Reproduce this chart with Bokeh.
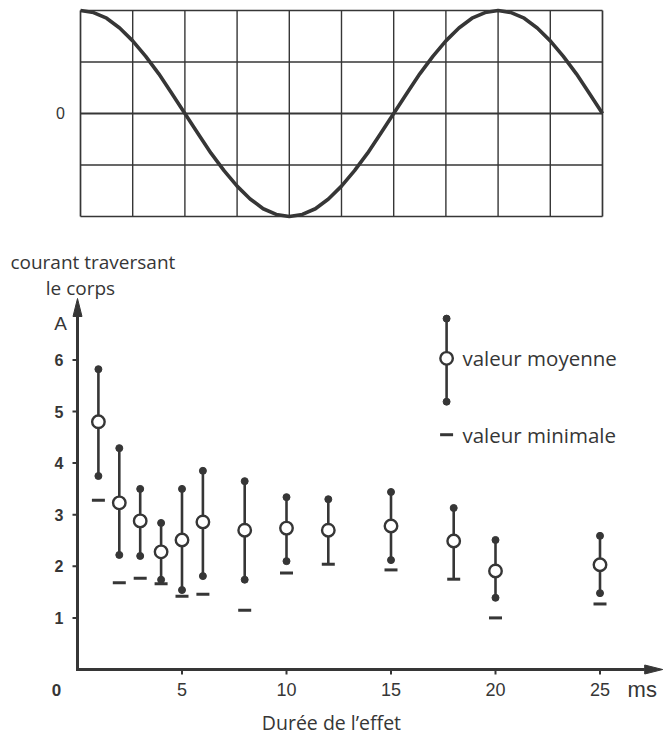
from bokeh.plotting import figure
from bokeh.layouts import column
from bokeh.models import Range1d
from bokeh.core.properties import value
from bokeh.embed import file_html
from bokeh.resources import INLINE
import numpy as np

# ---------------- data ----------------
# top panel: waveform read at every quarter grid division (10 divisions)
wave_y = [2.00, 1.96, 1.85, 1.66, 1.41, 1.11, 0.77, 0.39, 0.00, -0.39,
          -0.77, -1.11, -1.41, -1.66, -1.85, -1.96, -2.00, -1.96, -1.85, -1.66,
          -1.41, -1.11, -0.77, -0.39, 0.00, 0.39, 0.77, 1.11, 1.41, 1.66,
          1.85, 1.96, 2.00, 1.96, 1.85, 1.66, 1.41, 1.11, 0.77, 0.39, 0.00]
wave_divisions = 10
wave_rows = [-2, -1, 0, 1, 2]

# bottom panel: current through the body vs. duration of the effect
durations = [1, 2, 3, 4, 5, 6, 8, 10, 12, 15, 18, 20, 25]          # ms
mean_val = [4.80, 3.23, 2.88, 2.28, 2.51, 2.86, 2.70, 2.74, 2.70, 2.78, 2.49, 1.91, 2.03]
upper_val = [5.82, 4.29, 3.50, 2.84, 3.50, 3.85, 3.65, 3.34, 3.30, 3.44, 3.13, 2.51, 2.59]
lower_val = [3.75, 2.22, 2.20, 1.74, 1.54, 1.81, 1.74, 2.10, 2.04, 2.12, 1.75, 1.39, 1.48]
min_val = [3.28, 1.68, 1.77, 1.66, 1.42, 1.46, 1.15, 1.87, 2.04, 1.93, 1.75, 1.00, 1.27]

x_ticks = [5, 10, 15, 20, 25]
y_ticks = [1, 2, 3, 4, 5, 6]

INK = "#363636"
NUM_FONT = "Liberation Sans"
TXT_FONT = "Open Sans"


def txt(p, x, y, text, size, align="left", font=TXT_FONT, style="normal"):
    p.text(x=x, y=y, text=text, text_align=align, text_baseline="middle",
           text_font=value(font), text_font_size=size, text_color=INK,
           text_font_style=style)


# ---------------- top panel (frame = whole canvas) ----------------
# 52.2 px per division horizontally, 51.5 px per division vertically
top = figure(width=664, height=232, x_range=Range1d(-1.5326, 11.188), y_range=Range1d(-2.311, 2.194),
             x_axis_type=None, y_axis_type=None, toolbar_location=None, output_backend="svg",
             min_border=0)
top.grid.visible = False
top.outline_line_color = None

cols = list(range(wave_divisions + 1))
col_w = [1.7 if c in (0, wave_divisions) else 1.4 for c in cols]
top.segment(x0=cols, y0=[wave_rows[0]] * len(cols), x1=cols, y1=[wave_rows[-1]] * len(cols),
            line_color=INK, line_width=col_w)
row_w = [2.2 if r == 0 else (1.7 if r in (wave_rows[0], wave_rows[-1]) else 1.4) for r in wave_rows]
top.segment(x0=[0] * len(wave_rows), y0=wave_rows, x1=[wave_divisions] * len(wave_rows), y1=wave_rows,
            line_color=INK, line_width=row_w)
wave_x = np.linspace(0, wave_divisions, len(wave_y))
top.line(wave_x, wave_y, line_width=3.6, color=INK, line_join="round")
txt(top, [-0.383], [0], ["0"], "16px", align="center", font=NUM_FONT)

# ---------------- bottom panel (frame = whole canvas) ----------------
# origin at page (77, 669); 20.9 px per ms, 51.6 px per ampere
PX_X, PX_Y = 20.9, 51.6
bot = figure(width=664, height=505, x_range=Range1d(-77 / PX_X, 587 / PX_X),
             y_range=Range1d(-68 / PX_Y, 437 / PX_Y),
             x_axis_type=None, y_axis_type=None, toolbar_location=None, output_backend="svg",
             min_border=0)
bot.grid.visible = False
bot.outline_line_color = None

X_TIP, Y_TIP = 28.0, 7.19
HEAD_LEN, HEAD_HALF = 18, 4.5

# axes with narrow arrow heads
bot.line([0, 0, X_TIP - HEAD_LEN / PX_X], [Y_TIP - HEAD_LEN / PX_Y, 0, 0],
         line_color=INK, line_width=3, line_join="miter")
bot.patches(xs=[[X_TIP, X_TIP - HEAD_LEN / PX_X, X_TIP - HEAD_LEN / PX_X],
                [0, -HEAD_HALF / PX_X, HEAD_HALF / PX_X]],
            ys=[[0, HEAD_HALF / PX_Y, -HEAD_HALF / PX_Y],
                [Y_TIP, Y_TIP - HEAD_LEN / PX_Y, Y_TIP - HEAD_LEN / PX_Y]],
            fill_color=INK, line_color=INK, line_width=1)
# ticks
TICK_X = 5 / PX_X
TICK_Y = 5 / PX_Y
bot.segment(x0=x_ticks, y0=[0] * len(x_ticks), x1=x_ticks, y1=[-TICK_Y] * len(x_ticks),
            line_color=INK, line_width=2)
bot.segment(x0=[0] * len(y_ticks), y0=y_ticks, x1=[-TICK_X] * len(y_ticks), y1=y_ticks,
            line_color=INK, line_width=2)
txt(bot, x_ticks, [-0.388] * len(x_ticks), [str(t) for t in x_ticks], "18px", align="center", font=NUM_FONT)
txt(bot, [-0.67] * len(y_ticks), y_ticks, [str(t) for t in y_ticks], "16px", align="right",
    font=NUM_FONT, style="bold")

# range bars
bot.segment(x0=durations, y0=lower_val, x1=durations, y1=upper_val, line_color=INK, line_width=2.6)
bot.scatter(durations, upper_val, size=7, color=INK)
dot_x = [d for d, lo, mn in zip(durations, lower_val, min_val) if lo != mn]
dot_y = [lo for lo, mn in zip(lower_val, min_val) if lo != mn]
bot.scatter(dot_x, dot_y, size=7, color=INK)
bot.scatter(durations, min_val, marker="dash", size=13, line_color=INK, line_width=3)
bot.scatter(durations, mean_val, size=12.5, fill_color="white", line_color=INK, line_width=2.4)

# legend (drawn by hand)
LEG_X, LEG_TOP, LEG_BOT, LEG_MID, LEG_MIN = 17.66, 6.80, 5.19, 6.03, 4.55
LEG_TXT = 18.42
bot.segment(x0=[LEG_X], y0=[LEG_BOT], x1=[LEG_X], y1=[LEG_TOP], line_color=INK, line_width=2.6)
bot.scatter([LEG_X, LEG_X], [LEG_BOT, LEG_TOP], size=7, color=INK)
bot.scatter([LEG_X], [LEG_MID], size=12.5, fill_color="white", line_color=INK, line_width=2.4)
bot.scatter([LEG_X], [LEG_MIN], marker="dash", size=13, line_color=INK, line_width=3)

txt(bot, [LEG_TXT], [LEG_MID], ["valeur moyenne"], "20.5px")
txt(bot, [LEG_TXT], [LEG_MIN], ["valeur minimale"], "20.5px")
txt(bot, [-3.21], [7.89], ["courant traversant"], "19px")
txt(bot, [0.14], [7.40], ["le corps"], "19px", align="center")
txt(bot, [-0.81], [6.70], ["A"], "19px", align="center", font=NUM_FONT)
txt(bot, [-1.005], [-0.388], ["0"], "17px", align="center", font=NUM_FONT, style="bold")
txt(bot, [26.32], [-0.388], ["ms"], "22px", font=NUM_FONT)
txt(bot, [12.15], [-1.02], ["Durée de l’effet"], "19.5px", align="center")

layout = column(top, bot, spacing=0)
open("out.html", "w").write(file_html(layout, INLINE))
